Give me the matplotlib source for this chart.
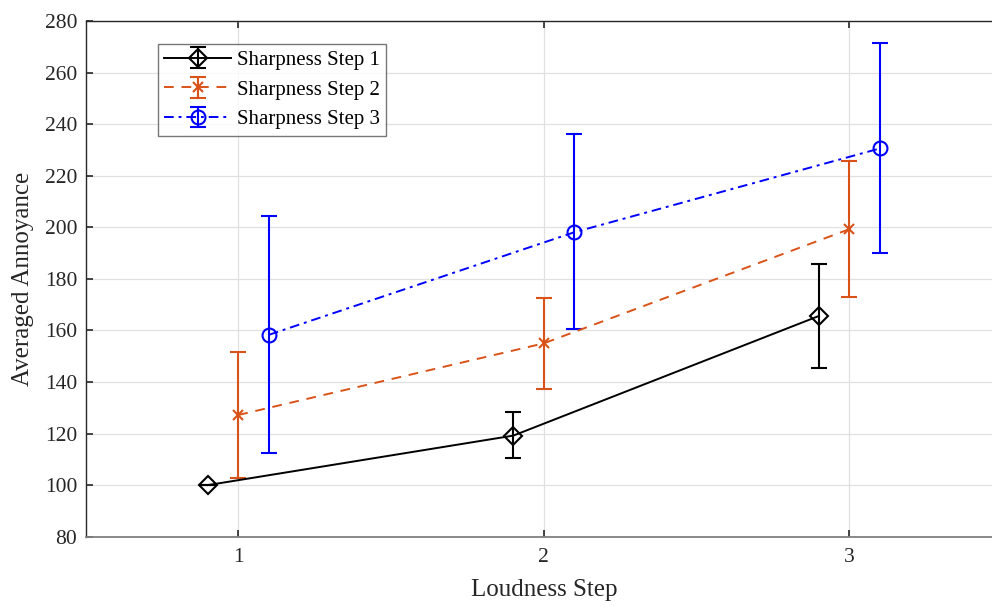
import numpy as np
import matplotlib
matplotlib.use("Agg")
import matplotlib.pyplot as plt

# loudness steps and averaged annoyance per sharpness step
steps = [1, 2, 3]
labels = ["Sharpness Step 1", "Sharpness Step 2", "Sharpness Step 3"]

mean_s1 = [100.0, 119.2, 165.6]
low_s1 = [0.0, 8.6, 20.3]
high_s1 = [0.0, 9.0, 20.3]

mean_s2 = [127.2, 155.0, 199.3]
low_s2 = [24.3, 17.8, 26.3]
high_s2 = [24.4, 17.7, 26.4]

mean_s3 = [158.3, 198.1, 230.6]
low_s3 = [45.8, 37.7, 40.7]
high_s3 = [46.1, 38.1, 40.8]

plt.rcParams['font.family'] = ['Liberation Serif', 'DejaVu Serif']

fig = plt.figure(figsize=(9.92, 6.08), dpi=100)
ax = fig.add_axes([0.0862, 0.1173, 0.924, 0.848])

x = np.array(steps, dtype=float)
series = [
    (x - 0.1, mean_s1, low_s1, high_s1, 'k', 'D', '-', 9.5),
    (x, mean_s2, low_s2, high_s2, '#D95319', 'x', (0, (5, 4)), 7.5),
    (x + 0.1, mean_s3, low_s3, high_s3, '#0000FF', 'o', (0, (5, 2.5, 1.5, 2.5)), 10),
]
for (xs, m, lo, hi, c, mk, ls, ms), lab in zip(series, labels):
    ax.errorbar(xs, m, yerr=[lo, hi], color=c, marker=mk, linestyle=ls,
                markersize=ms, markerfacecolor='none', markeredgewidth=1.5,
                linewidth=1.4, capsize=5.5, capthick=1.5, elinewidth=1.5,
                label=lab, zorder=3)

ax.set_xlim(0.5, 3.5)
ax.set_ylim(80, 280)
ax.set_xticks(steps)
ax.set_yticks(np.arange(80, 281, 20))
ax.grid(True, color='0.88', linewidth=0.9)
ax.set_axisbelow(True)

ax.tick_params(direction='in', length=5, width=1.2, colors='#262626',
               labelsize=15.5, top=True, right=False, pad=8)
ax.tick_params(axis='y', pad=6)
for side in ['left', 'top']:
    ax.spines[side].set_color('#262626')
    ax.spines[side].set_linewidth(1.0)
ax.spines['bottom'].set_color('#808080')
ax.spines['bottom'].set_linewidth(1.3)
ax.spines['right'].set_visible(False)

ax.set_xlabel("Loudness Step", fontsize=18, color='#262626', labelpad=9)
ax.set_ylabel("Averaged Annoyance", fontsize=18, color='#262626', labelpad=8)

leg = ax.legend(loc='upper left', bbox_to_anchor=(0.079, 0.955), borderaxespad=0,
                fontsize=15, frameon=True, fancybox=False, edgecolor='#555555',
                handlelength=3.2, borderpad=0.3, labelspacing=0.48,
                handletextpad=0.3)
leg.get_frame().set_linewidth(1.0)

fig.savefig("out.png", dpi=100)
